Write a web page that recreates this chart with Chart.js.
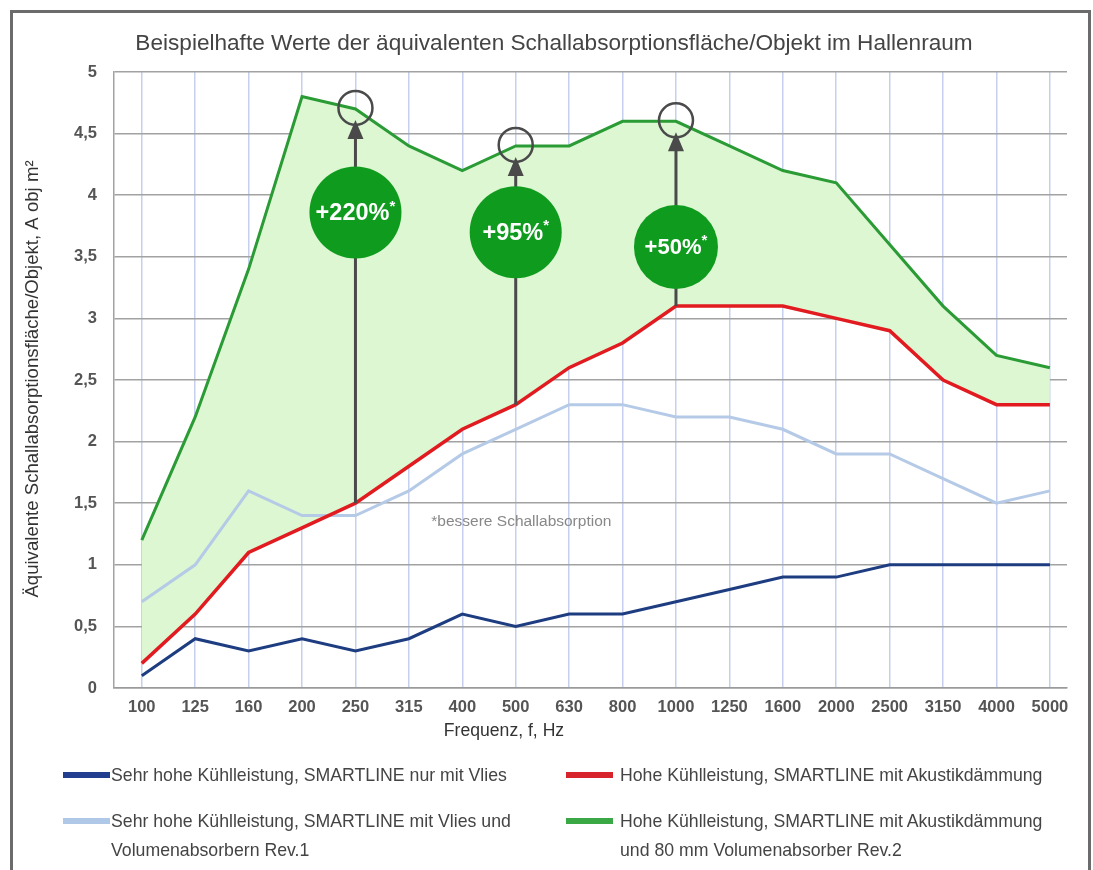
<!DOCTYPE html>
<html>
<head>
<meta charset="utf-8">
<script src="https://cdn.jsdelivr.net/npm/chart.js@4.4.1/dist/chart.umd.min.js"></script>
<style>
html,body{margin:0;padding:0;width:1093px;height:870px;overflow:hidden;background:#fff;}
#frame{position:absolute;left:10px;top:10px;width:1075px;height:900px;border:3px solid #6b6b6b;}
#wrap{position:absolute;left:0;top:0;width:1093px;height:870px;}
.sw{position:absolute;height:6px;}
.lt{position:absolute;font-family:"Liberation Sans",Arial,sans-serif;font-size:17.7px;color:#444;line-height:20px;white-space:nowrap;}
</style>
</head>
<body>
<div id="frame"></div>
<div id="wrap"><canvas id="c" width="1093" height="870"></canvas></div>
<div id="legend"></div>
<script>
// ---- data ----
const freqLabels = ["100","125","160","200","250","315","400","500","630","800","1000","1250","1600","2000","2500","3150","4000","5000"];
const darkBlueVals  = [0.1,0.4,0.3,0.4,0.3,0.4,0.6,0.5,0.6,0.6,0.7,0.8,0.9,0.9,1.0,1.0,1.0,1.0];
const redVals       = [0.2,0.6,1.1,1.3,1.5,1.8,2.1,2.3,2.6,2.8,3.1,3.1,3.1,3.0,2.9,2.5,2.3,2.3];
const lightBlueVals = [0.7,1.0,1.6,1.4,1.4,1.6,1.9,2.1,2.3,2.3,2.2,2.2,2.1,1.9,1.9,1.7,1.5,1.6];
const greenVals     = [1.2,2.2,3.4,4.8,4.7,4.4,4.2,4.4,4.4,4.6,4.6,4.4,4.2,4.1,3.6,3.1,2.7,2.6];
const yTickValues   = [0,0.5,1,1.5,2,2.5,3,3.5,4,4.5,5];
const seriesNames = [
  ["Sehr hohe Kühlleistung, SMARTLINE nur mit Vlies"],
  ["Hohe Kühlleistung, SMARTLINE mit Akustikdämmung"],
  ["Sehr hohe Kühlleistung, SMARTLINE mit Vlies und","Volumenabsorbern Rev.1"],
  ["Hohe Kühlleistung, SMARTLINE mit Akustikdämmung","und 80 mm Volumenabsorber Rev.2"]
];
const improvementFreqs = ["250","500","1000"];
const improvementTexts = ["+220%","+95%","+50%"];
const chartTitle = "Beispielhafte Werte der äquivalenten Schallabsorptionsfläche/Objekt im Hallenraum";
const xTitle = "Frequenz, f, Hz";
const yTitle = "Äquivalente Schallabsorptionsfläche/Objekt, A obj m²";
const noteText = "*bessere Schallabsorption";

// ---- styles ----
const colDark = "#1d3d80", colRed = "#e11b1f", colLight = "#b5cae7", colGreen = "#2a9b35";
const swatchCols = ["#213f8e","#d7232c","#b0c8e8","#3aa845"];
const badgeLevels = [3.86, 3.70, 3.58];
const badgeRadii = [46, 46, 42];

function pts(arr){ return arr.map((v,i)=>({x:i,y:v})); }

// legend (HTML)
(function(){
  const lg = document.getElementById('legend');
  const pos = [
    {sx:63, tx:111, y:775},
    {sx:566, tx:620, y:775},
    {sx:63, tx:111, y:821},
    {sx:566, tx:620, y:821}
  ];
  seriesNames.forEach((lines,i)=>{
    const p = pos[i];
    const s = document.createElement('div');
    s.className='sw';
    s.style.left=p.sx+'px'; s.style.top=(p.y-3)+'px'; s.style.width='47px'; s.style.background=swatchCols[i];
    lg.appendChild(s);
    lines.forEach((t,k)=>{
      const d = document.createElement('div');
      d.className='lt';
      d.style.left=p.tx+'px';
      d.style.top=(p.y-10+k*29)+'px';
      d.textContent=t;
      lg.appendChild(d);
    });
  });
})();

const annoPlugin = {
  id:'anno',
  afterDatasetsDraw(chart){
    const {ctx, scales:{x,y}} = chart;
    ctx.save();
    improvementFreqs.forEach((f,k)=>{
      const i = freqLabels.indexOf(f);
      const px = x.getPixelForValue(i);
      const yBot = y.getPixelForValue(redVals[i]);
      const yTop = y.getPixelForValue(greenVals[i]);
      const tip = yTop + 11;
      ctx.strokeStyle = '#4a4a4a';
      ctx.fillStyle = '#4a4a4a';
      ctx.lineWidth = 3;
      ctx.beginPath(); ctx.moveTo(px, yBot); ctx.lineTo(px, tip+14); ctx.stroke();
      ctx.beginPath(); ctx.moveTo(px, tip); ctx.lineTo(px+8, tip+19); ctx.lineTo(px-8, tip+19); ctx.closePath(); ctx.fill();
      ctx.lineWidth = 2.5;
      ctx.beginPath(); ctx.arc(px, yTop-1, 17, 0, Math.PI*2); ctx.stroke();
      // badge
      const by = y.getPixelForValue(badgeLevels[k]);
      ctx.fillStyle = '#0f9b1e';
      ctx.beginPath(); ctx.arc(px, by, badgeRadii[k], 0, Math.PI*2); ctx.fill();
      ctx.fillStyle = '#ffffff';
      const big = k===2 ? 22 : 23.5;
      ctx.font = 'bold '+big+'px "Liberation Sans", Arial, sans-serif';
      const w1 = ctx.measureText(improvementTexts[k]).width;
      ctx.font = 'bold 15px "Liberation Sans", Arial, sans-serif';
      const w2 = ctx.measureText('*').width;
      const sx = px - (w1+w2)/2;
      ctx.textBaseline = 'middle'; ctx.textAlign = 'left';
      ctx.font = 'bold '+big+'px "Liberation Sans", Arial, sans-serif';
      ctx.fillText(improvementTexts[k], sx, by+1);
      ctx.font = 'bold 15px "Liberation Sans", Arial, sans-serif';
      ctx.fillText('*', sx+w1, by-6);
    });
    ctx.restore();
  },
  afterDraw(chart){
    const {ctx, scales:{x,y}} = chart;
    ctx.save();
    ctx.fillStyle = '#444';
    ctx.textAlign = 'center'; ctx.textBaseline = 'middle';
    ctx.font = '22.6px "Liberation Sans", Arial, sans-serif';
    ctx.fillText(chartTitle, 554, 44);
    ctx.font = '17.6px "Liberation Sans", Arial, sans-serif';
    ctx.fillStyle = '#333';
    ctx.fillText(xTitle, 504, 731);
    ctx.save();
    ctx.translate(33, 379); ctx.rotate(-Math.PI/2);
    ctx.font = '18.6px "Liberation Sans", Arial, sans-serif';
    ctx.fillText(yTitle, 0, 0);
    ctx.restore();
    ctx.font = '15.5px "Liberation Sans", Arial, sans-serif';
    ctx.fillStyle = '#888';
    ctx.textAlign = 'left';
    ctx.fillText(noteText, x.getPixelForValue(5.42), y.getPixelForValue(1.35));
    ctx.restore();
  }
};

new Chart(document.getElementById('c'), {
  type:'line',
  data:{
    datasets:[
      {label:seriesNames[0].join(' '), data:pts(darkBlueVals), borderColor:colDark, borderWidth:3, pointRadius:0, fill:false},
      {label:seriesNames[1].join(' '), data:pts(redVals), borderColor:colRed, borderWidth:3.5, pointRadius:0, fill:false},
      {label:seriesNames[2].join(' '), data:pts(lightBlueVals), borderColor:colLight, borderWidth:3, pointRadius:0, fill:false},
      {label:seriesNames[3].join(' '), data:pts(greenVals), borderColor:colGreen, borderWidth:3, pointRadius:0, fill:{target:1}, backgroundColor:'#dcf7d2'}
    ]
  },
  options:{
    responsive:false, animation:false, devicePixelRatio:1,
    layout:{padding:{top:72,left:0,right:26,bottom:142}},
    plugins:{legend:{display:false}, title:{display:false}, tooltip:{enabled:false}, filler:{drawTime:'beforeDatasetsDraw'}},
    scales:{
      x:{
        type:'linear', min:-0.52, max:17.32,
        afterBuildTicks(s){ s.ticks = freqLabels.map((_,i)=>({value:i})); },
        afterFit(s){ s.height = 40; },
        grid:{color:'#c6d0ee', lineWidth:1.5, drawTicks:false},
        border:{display:true, color:'#9a9a9a', width:1.5},
        ticks:{autoSkip:false, maxRotation:0, padding:10, color:'#555',
          font:{family:'"Liberation Sans", Arial', size:16.5, weight:'bold'},
          callback:(v)=>freqLabels[v]}
      },
      y:{
        min:0, max:5,
        afterBuildTicks(s){ s.ticks = yTickValues.map(v=>({value:v})); },
        afterFit(s){ s.width = 114; },
        grid:{color:'#a2a2a2', lineWidth:1.5, drawTicks:false},
        border:{display:true, color:'#a2a2a2', width:1.5},
        ticks:{padding:17, color:'#555',
          font:{family:'"Liberation Sans", Arial', size:16.5, weight:'bold'},
          callback:(v)=>String(v).replace('.',',')}
      }
    }
  },
  plugins:[annoPlugin]
});
</script>
</body>
</html>
